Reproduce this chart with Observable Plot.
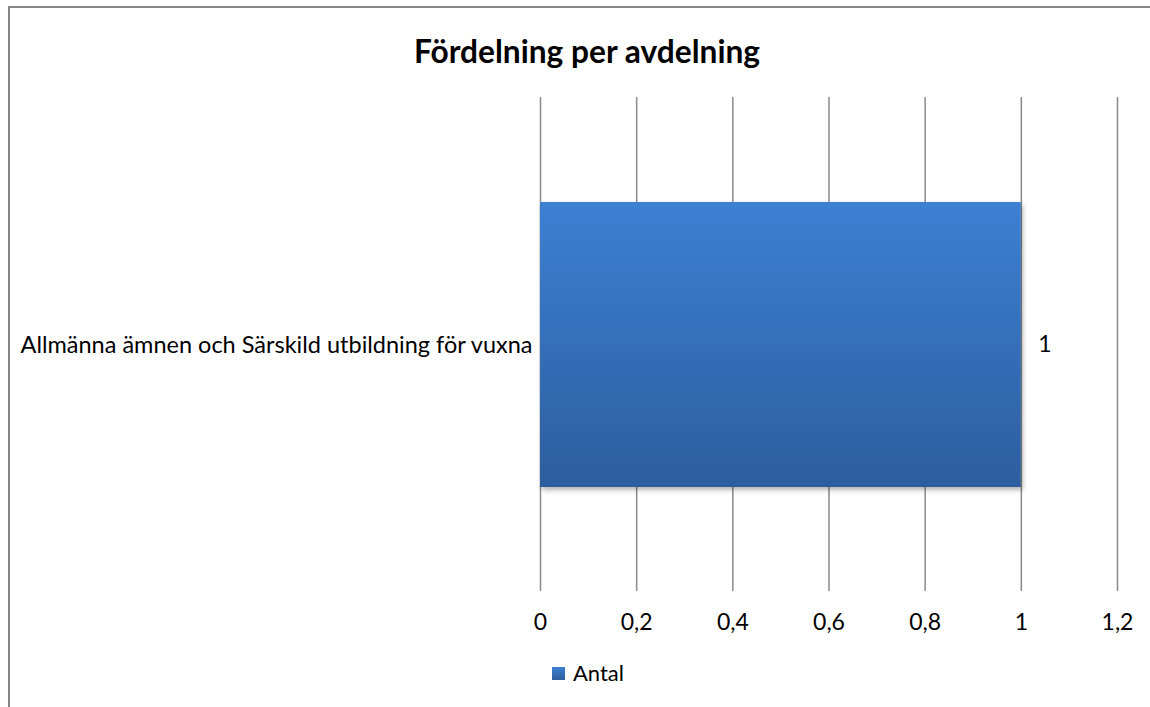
<!DOCTYPE html>
<html>
<head>
<meta charset="utf-8">
<script src="https://cdn.jsdelivr.net/npm/d3@7"></script>
<script src="https://cdn.jsdelivr.net/npm/@observablehq/plot@0.6"></script>
<style>
  html, body { margin: 0; padding: 0; background: #fff; overflow: hidden; }
  #wrap { position: relative; width: 1150px; height: 707px; overflow: hidden; font-family: Lato, "Open Sans", sans-serif; }
  #frameTop { position: absolute; left: 8px; top: 6px; width: 1142px; height: 2px; background: #878787; }
  #frameLeft { position: absolute; left: 8px; top: 6px; width: 2px; height: 701px; background: #878787; }
  #title { position: absolute; left: 0; top: 33px; width: 1174px; text-align: center; font-weight: bold; font-size: 31.7px; line-height: 36px; color: #000; }
  #legend { position: absolute; left: 552px; top: 660px; font-size: 22px; line-height: 26px; color: #000; display: flex; align-items: center; }
  #legend .sw { width: 13px; height: 13px; background: linear-gradient(#3c7fd0, #2e5e9f); margin-right: 8px; }
  #chart { position: absolute; left: 0; top: 0; }
</style>
</head>
<body>
<div id="wrap">
  <div id="frameTop"></div>
  <div id="frameLeft"></div>
  <div id="title">Fördelning per avdelning</div>
  <div id="chart"></div>
  <div id="legend"><div class="sw"></div><span id="legtext"></span></div>
</div>
<script>
const categories = ["Allmänna ämnen och Särskild utbildning för vuxna"];
const values = [1];
const seriesName = "Antal";
const xTicks = [0, 0.2, 0.4, 0.6, 0.8, 1, 1.2];

const data = categories.map((c, i) => ({ category: c, value: values[i] }));
document.getElementById("legtext").textContent = seriesName;

const fmt = d => String(Math.round(d * 10) / 10).replace(".", ",");

const defs = () => {
  const g = d3.create("svg:defs");
  const lg = g.append("linearGradient").attr("id", "barGrad").attr("x1", 0).attr("y1", 0).attr("x2", 0).attr("y2", 1);
  lg.append("stop").attr("offset", "0%").attr("stop-color", "#3c80d2");
  lg.append("stop").attr("offset", "100%").attr("stop-color", "#2d5d9e");
  const f = g.append("filter").attr("id", "shadow").attr("x", "-5%").attr("y", "-5%").attr("width", "115%").attr("height", "120%");
  f.append("feDropShadow").attr("dx", 2).attr("dy", 3).attr("stdDeviation", 2.5).attr("flood-color", "#000").attr("flood-opacity", 0.3);
  return g.node();
};

const chart = Plot.plot({
  width: 1150,
  height: 707,
  marginLeft: 540,
  marginRight: 33,
  marginTop: 97,
  marginBottom: 116,
  style: { fontFamily: "Lato, 'Open Sans', sans-serif", fontSize: "23.5px", color: "#000", background: "transparent" },
  x: { domain: [0, 1.2], ticks: xTicks, tickFormat: fmt, label: null },
  y: { domain: categories, padding: 0.268, label: null },
  marks: [
    defs,
    Plot.ruleX(xTicks, { stroke: "#8a8a8a", strokeWidth: 1.5, strokeOpacity: 1 }),
    Plot.barX(data, { x: "value", y: "category", fill: "url(#barGrad)" }),
    Plot.axisX({ ticks: xTicks, tickFormat: fmt, tickSize: 0, tickPadding: 22, fontSize: 23, label: null }),
    Plot.axisY({ tickSize: 0, tickPadding: 8, fontSize: 23.5, label: null }),
    Plot.text(data, { x: "value", y: "category", text: d => fmt(d.value), dx: 17, textAnchor: "start", fontSize: 23 })
  ]
});
chart.querySelectorAll("rect").forEach(r => { if (r.getAttribute("fill") === "url(#barGrad)" || (r.parentNode && r.parentNode.getAttribute("fill") === "url(#barGrad)")) r.setAttribute("filter", "url(#shadow)"); });
document.getElementById("chart").appendChild(chart);
</script>
</body>
</html>
